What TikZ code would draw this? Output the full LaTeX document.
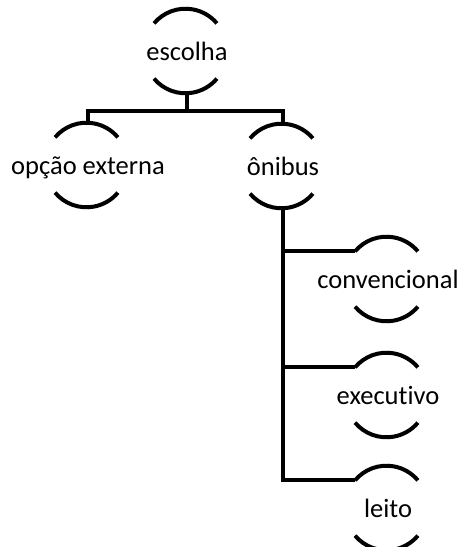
\documentclass[tikz,border=0pt]{standalone}
\usepackage{fontspec}
\setmainfont{Carlito}[Ligatures=NoCommon]
% zero-size label box: baseline sits a little below the circle centre
\newcommand\choicetext[1]{\makebox[0pt]{\raisebox{-10pt}[0pt][0pt]{#1}}}
\begin{document}
\begin{tikzpicture}[x=1pt,y=1pt,
  line width=4pt,
  choice/.style={circle,inner sep=0pt,minimum size=82pt,
    font=\fontsize{26.5}{31}\selectfont},
  link/.style={draw,line join=miter}]
\useasboundingbox (0,0) rectangle (460,547);

% alternatives
\node[choice] (escolha) at (187,496) {\choicetext{escolha}};
\node[choice] (opcao)   at (88,382)  {\choicetext{opção externa}};
\node[choice] (onibus)  at (283,381) {\choicetext{ônibus}};
\node[choice] (conv)    at (388,268) {\choicetext{convencional}};
\node[choice] (exec)    at (388,152) {\choicetext{executivo}};
\node[choice] (leito)   at (388,39)  {\choicetext{leito}};

% open arcs above and below each label
\foreach \n in {escolha,opcao,onibus,conv,exec,leito}{
  \draw (\n.140) arc[start angle=140,end angle=40,radius=41pt];
  \draw (\n.220) arc[start angle=220,end angle=320,radius=41pt];
}

% first level
\coordinate (split) at ([yshift=-17pt]escolha.south);
\path[link] (escolha.south) -- (split);
\path[link] (split) -| (opcao.north);
\path[link] (split) -| (onibus.north);

% second level
\path[link] (onibus.south) |- (leito.140);
\path[link] (onibus.south) |- (exec.140);
\path[link] (onibus.south) |- (conv.140);
\end{tikzpicture}
\end{document}
